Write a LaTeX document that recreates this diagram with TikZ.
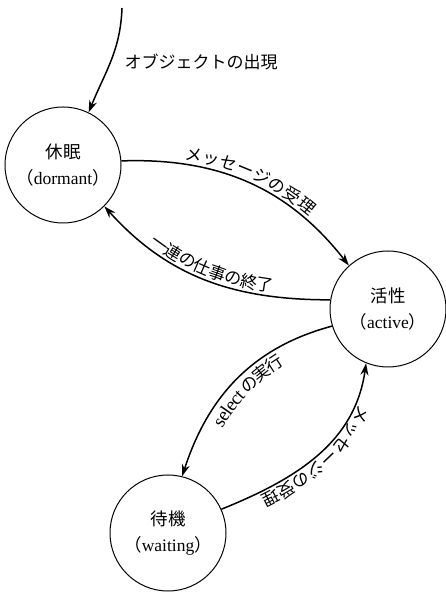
\documentclass[tikz,border=0pt]{standalone}
\usepackage{fontspec}
\setmainfont{Liberation Serif}
\newfontfamily\cjk{Noto Sans CJK JP}
\usetikzlibrary{arrows.meta,decorations.text}
\newcommand\jlfont{\cjk\fontsize{17}{20}\selectfont}
\newcommand\latlfont{\fontsize{19}{22}\selectfont}
\tikzset{
  state/.style={circle, draw, line width=1pt, minimum size=116pt, inner sep=0pt, align=center, font=\fontsize{17.5}{26}\selectfont},
  edge/.style={line width=1.5pt, -{Stealth[length=12pt,width=8pt]}},
  lbl/.style={font=\jlfont}
}
\begin{document}
\begin{tikzpicture}[x=1pt,y=1pt]
\useasboundingbox (0,0) rectangle (445,594);
\node[state] (dormant) at (63,429) {{\cjk 休眠}\\{\cjk （}dormant{\cjk ）}};
\node[state] (active) at (388,285) {{\cjk 活性}\\{\cjk （}active{\cjk ）}};
\node[state] (waiting) at (168,61) {{\cjk 待機}\\{\cjk （}waiting{\cjk ）}};
\coordinate (start) at (122,586);
\draw[edge] (start) to[out=-92, in=68] (dormant.64);
\node[lbl, anchor=west] (appear) at (121,532) {オブジェクトの出現};
\draw[edge, postaction={decorate, decoration={text along path, text align=center, raise=5pt, text={|\jlfont|メッセージの受理}}}]
  (dormant.4) to[out=2, in=128] (active.132);
\draw[edge, postaction={decorate, decoration={text along path, reverse path, text align=center, raise=4pt, text={|\jlfont|一連の仕事の終了}}}]
  (active.171) to[out=180, in=-48] (dormant.-45);
\draw[edge, postaction={decorate, decoration={text along path, reverse path, text align=center, raise=-18pt, text={|\latlfont|select|\jlfont| の実行}}}]
  (active.197) to[out=195, in=72] (waiting.76);
\draw[edge, postaction={decorate, decoration={text along path, reverse path, text align=center, raise=4pt, text={|\jlfont|メッセージの受理}}}]
  (waiting.24) to[out=22, in=-98] (active.-112);
\end{tikzpicture}
\end{document}
